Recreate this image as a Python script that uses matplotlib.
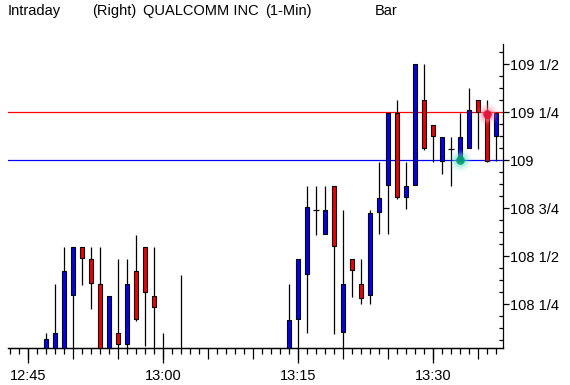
import matplotlib
matplotlib.use("Agg")
import matplotlib.pyplot as plt
import numpy as np
from matplotlib.ticker import FixedLocator, FuncFormatter, NullFormatter

plt.rcParams['font.family'] = ['Liberation Sans', 'DejaVu Sans']

# 1-minute bars, QUALCOMM INC (minutes without trades are left out)
times = ["12:47", "12:48", "12:49", "12:50", "12:51", "12:52", "12:53", "12:54",
         "12:55", "12:56", "12:57", "12:58", "12:59", "13:00", "13:02",
         "13:14", "13:15", "13:16", "13:17", "13:18", "13:19", "13:20", "13:21",
         "13:22", "13:23", "13:24", "13:25", "13:26", "13:27", "13:28", "13:29",
         "13:30", "13:31", "13:32", "13:33", "13:34", "13:35", "13:36", "13:37"]
opens = [108.00, 108.00, 108.00, 108.297, 108.548, 108.484, 108.354, 108.00,
         108.099, 108.042, 108.422, 108.547, 108.292, 107.99, 107.99,
         108.00, 108.172, 108.406, 108.740, 108.615, 108.865, 108.104, 108.484,
         108.354, 108.298, 108.729, 108.871, 109.245, 108.807, 108.871, 109.3125,
         109.182, 108.995, 109.057, 108.995, 109.063, 109.313, 109.25, 109.125]
highs = [108.100, 108.356, 108.548, 108.548, 108.548, 108.548, 108.548, 108.292,
         108.486, 108.486, 108.613, 108.547, 108.547, 108.099, 108.401,
         108.356, 108.484, 108.865, 108.865, 108.865, 108.865, 108.740, 108.484,
         108.484, 108.740, 108.990, 109.245, 109.314, 108.990, 109.500, 109.500,
         109.182, 109.120, 109.120, 109.245, 109.377, 109.313, 109.314, 109.250]
lows = [107.98, 107.98, 107.98, 107.98, 108.352, 108.227, 107.98, 107.98,
        107.98, 107.98, 108.165, 108.034, 107.98, 107.95, 107.95,
        107.98, 107.98, 108.102, 108.611, 108.615, 108.097, 107.98, 108.290,
        108.250, 108.250, 108.615, 108.615, 108.798, 108.745, 108.871, 109.055,
        108.990, 108.930, 108.868, 108.995, 109.063, 109.057, 108.990, 108.995]
closes = [108.069, 108.100, 108.423, 108.548, 108.490, 108.359, 108.00, 108.292,
          108.042, 108.354, 108.172, 108.3125, 108.234, 107.97, 108.00,
          108.167, 108.484, 108.755, 108.740, 108.740, 108.552, 108.356, 108.427,
          108.281, 108.724, 108.802, 109.245, 108.807, 108.865, 109.500, 109.0625,
          109.125, 109.120, 109.057, 109.120, 109.260, 109.250, 108.995, 109.245]

# reference lines and markers
line_red = 109.25
line_blue = 109.0
marker_times = ["13:33", "13:36"]
marker_prices = [109.0, 109.24]
marker_colors = ["#00a070", "#e8103c"]
marker_glow = ["#70e0d0", "#ff8aa4"]

tick_times = ["12:45", "13:00", "13:15", "13:30"]


def to_min(t):
    h, m = t.split(":")
    return (int(h) - 12) * 60 + int(m) - 45


x = np.array([to_min(t) for t in times], dtype=float)
o = np.array(opens)
h = np.array(highs)
l = np.array(lows)
c = np.array(closes)

fig = plt.figure(figsize=(5.7, 3.85), dpi=100)
ax = fig.add_axes([8 / 570, 37 / 385, 495 / 570, 304 / 385])

# wicks
ax.vlines(x, l, h, color="black", lw=0.9, zorder=2)

up = c > o
down = c < o
flat = c == o
ax.bar(x[up], (c - o)[up], bottom=o[up], width=0.52, color="#0000ee",
       edgecolor="black", lw=0.8, zorder=3)
ax.bar(x[down], (o - c)[down], bottom=c[down], width=0.52, color="#ee0000",
       edgecolor="black", lw=0.8, zorder=3)
ax.hlines(c[flat], x[flat] - 0.3, x[flat] + 0.3, color="black", lw=0.9, zorder=3)

ax.axhline(line_red, color="#ff0000", lw=0.9, zorder=1)
ax.axhline(line_blue, color="#0000ff", lw=0.9, zorder=1)

mx = [to_min(t) for t in marker_times]
for xm, ym, col, glow in zip(mx, marker_prices, marker_colors, marker_glow):
    for s, a in [(260, 0.10), (170, 0.18), (100, 0.3)]:
        ax.scatter([xm], [ym], s=s, color=glow, alpha=a, lw=0, zorder=4)
    ax.scatter([xm], [ym], s=40, color=col, alpha=0.9, lw=0, zorder=5)

ax.set_xlim(-2.22, 52.78)
ax.set_ylim(108.0224, 109.6057)

for side in ["left", "top"]:
    ax.spines[side].set_visible(False)
ax.spines["right"].set_linewidth(0.9)
ax.spines["bottom"].set_linewidth(0.9)

# y axis on the right in fractions
def frac_label(v, pos):
    whole = int(np.floor(v + 1e-9))
    q = int(round((v - whole) * 4))
    names = {0: "", 1: " 1/4", 2: " 1/2", 3: " 3/4"}
    return f"{whole}{names[q]}"

ax.yaxis.tick_right()
ax.yaxis.set_major_locator(FixedLocator(np.arange(108.25, 109.51, 0.25)))
ax.yaxis.set_minor_locator(FixedLocator(np.arange(108.0625, 109.6, 0.0625)))
ax.yaxis.set_major_formatter(FuncFormatter(frac_label))
ax.tick_params(axis="y", which="major", direction="out", length=4, width=0.9,
               pad=1, labelsize=10.5)
ax.tick_params(axis="y", which="minor", direction="in", length=3, width=0.9)

# x axis: minute ticks, 5-min ticks, 15-min labelled ticks
ax.xaxis.set_minor_locator(FixedLocator(np.arange(-2, 53, 1)))
ax.xaxis.set_major_locator(FixedLocator(np.arange(0, 53, 5)))
ax.xaxis.set_major_formatter(NullFormatter())
ax.tick_params(axis="x", which="minor", direction="out", length=4, width=0.9)
ax.tick_params(axis="x", which="major", direction="out", length=8, width=0.9)

sec = ax.secondary_xaxis("bottom")
sec.set_xticks([to_min(t) for t in tick_times])
sec.set_xticklabels(tick_times)
sec.tick_params(axis="x", direction="out", length=11, width=0.9, pad=4,
                labelsize=10.5)
sec.spines["bottom"].set_linewidth(0.9)

# header
hy = 1 - 15 / 385
fig.text(8 / 570, hy, "Intraday", fontsize=10.5, va="baseline")
fig.text(92 / 570, hy, "(Right)", fontsize=10.5, va="baseline")
fig.text(143 / 570, hy, "QUALCOMM INC", fontsize=10.5, va="baseline")
fig.text(265 / 570, hy, "(1-Min)", fontsize=10.5, va="baseline")
fig.text(375 / 570, hy, "Bar", fontsize=10.5, va="baseline")

fig.savefig("out.png", dpi=100)
